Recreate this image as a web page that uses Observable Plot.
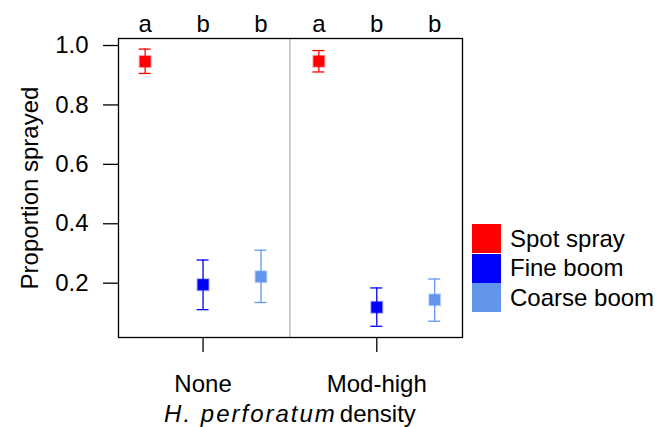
<!DOCTYPE html>
<html><head><meta charset="utf-8">
<script src="https://cdn.jsdelivr.net/npm/d3@7"></script>
<script src="https://cdn.jsdelivr.net/npm/@observablehq/plot@0.6"></script>
<style>
body{margin:0;background:#fff;}
#fig{position:relative;width:670px;height:427px;font-family:"Liberation Sans",Arial,sans-serif;color:#000;}
#fig svg.plt{position:absolute;left:0;top:0;}
#legend{position:absolute;left:472px;top:224px;}
#legend .lg-swatches{font-family:"Liberation Sans",Arial,sans-serif;font-size:24px;margin:0;color:#000;}
#legend .lg-swatch{padding-bottom:0;height:29.5px;}
#legend .lg-swatch > svg{margin-right:9px;}
#caption{position:absolute;left:0;width:580px;text-align:center;top:402px;font-size:24px;line-height:24px;white-space:nowrap;}
#caption i{letter-spacing:2px;}
#caption span{margin-left:3px;}
</style></head><body>
<div id="fig"></div>
<script>
// ---- data ----
const groups = ["None", "Mod-high"];
const series = ["Spot spray", "Fine boom", "Coarse boom"];
const colors = ["#FF0000", "#0000FF", "#6495ED"];
const letters = [["a", "b", "b"], ["a", "b", "b"]];
const means = [[0.946, 0.195, 0.222], [0.947, 0.119, 0.144]];
const lower = [[0.906, 0.111, 0.135], [0.911, 0.055, 0.072]];
const upper = [[0.988, 0.278, 0.311], [0.983, 0.184, 0.214]];
const yTicks = [0.2, 0.4, 0.6, 0.8, 1.0];
const yLabel = "Proportion sprayed";

// ---- table ----
const n = series.length;
const rows = [];
groups.forEach((g, gi) => series.forEach((s, si) => rows.push({
  group: g, series: s, pos: gi * n + si,
  mean: means[gi][si], lo: lower[gi][si], hi: upper[gi][si]
})));
const positions = rows.map(d => d.pos);
const topLetters = letters.flat();
const groupCenters = groups.map((g, gi) => gi * n + (n - 1) / 2);
const dividers = groups.slice(1).map((g, gi) => (gi + 1) * n - 0.5);

const chart = Plot.plot({
  width: 670, height: 427,
  marginLeft: 118, marginRight: 208, marginTop: 38, marginBottom: 90,
  className: "plt",
  style: {fontFamily: "Liberation Sans, Arial, sans-serif", fontSize: "24px", background: "white", color: "black"},
  x: {type: "linear", domain: [-0.46, 5.48]},
  y: {domain: [0.0172, 1.0236]},
  color: {domain: series, range: colors},
  marks: [
    Plot.ruleX(dividers, {stroke: "#aaaaaa", strokeWidth: 1.2}),
    Plot.frame({stroke: "black", strokeWidth: 1.3}),
    Plot.axisY({ticks: yTicks, tickSize: 15, tickPadding: 15, tickFormat: d3.format(".1f"),
      label: yLabel, labelAnchor: "center", labelOffset: 98, labelArrow: "none", strokeWidth: 1.3}),
    Plot.axisX({anchor: "top", ticks: positions, tickSize: 0, tickPadding: 7,
      tickFormat: i => topLetters[i], label: null}),
    Plot.axisX({anchor: "bottom", ticks: groupCenters, tickSize: 15, tickPadding: 22,
      tickFormat: p => groups[Math.floor(p / n)], label: null, strokeWidth: 1.3}),
    Plot.ruleX(rows, {x: "pos", y1: "lo", y2: "hi", stroke: "series", strokeWidth: 1.3}),
    Plot.ruleY(rows, {x1: "pos", x2: "pos", y: "lo", stroke: "series", insetLeft: -6, insetRight: -6, strokeWidth: 1.3}),
    Plot.ruleY(rows, {x1: "pos", x2: "pos", y: "hi", stroke: "series", insetLeft: -6, insetRight: -6, strokeWidth: 1.3}),
    Plot.dot(rows, {x: "pos", y: "mean", symbol: "square", r: 6.2, fill: "series", stroke: "series", strokeOpacity: 0.35, strokeWidth: 2})
  ]
});

const fig = document.getElementById("fig");
fig.appendChild(chart);

const legendWrap = document.createElement("div");
legendWrap.id = "legend";
legendWrap.appendChild(Plot.legend({
  color: {domain: series, range: colors},
  legend: "swatches", swatchSize: 29, columns: 1, className: "lg"
}));
fig.appendChild(legendWrap);

const cap = document.createElement("div");
cap.id = "caption";
cap.innerHTML = "<i>H. perforatum</i><span>density</span>";
fig.appendChild(cap);
</script>
</body></html>
